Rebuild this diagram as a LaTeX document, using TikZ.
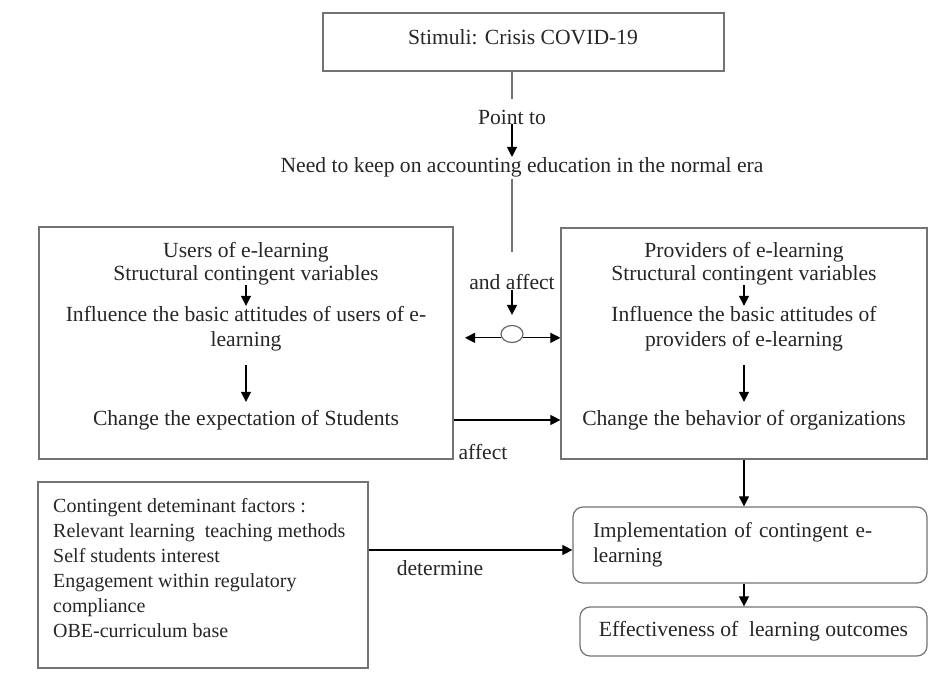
\documentclass[tikz,border=0pt]{standalone}
\usepackage{fontspec}
\setmainfont{Liberation Serif}
\usetikzlibrary{arrows.meta}
\usetikzlibrary{shapes.geometric}
\tikzset{box/.style={rectangle, draw=black!55, line width=1.2pt}}
\tikzset{rbox/.style={box, rounded corners=10pt}}
\tikzset{txt/.style={inner sep=0pt, text=black!85, font=\fontsize{21.6}{25}\selectfont}}
\tikzset{arr/.style={-{Triangle[length=10pt,width=10pt]}, line width=1.1pt}}
\tikzset{ln/.style={draw=black!55, line width=1.2pt}}

\begin{document}
\begin{tikzpicture}[x=1pt, y=-1pt]
  \useasboundingbox (0,0) rectangle (932,688);

  % top of the chain
  \node[box, minimum width=401pt, minimum height=58pt] (stim) at (523.5,42) {};
  \node[txt] (stimt) at (523,37) {Stimuli: Crisis COVID-19};
  \node[txt] (point) at (512,117) {Point to};
  \node[txt] (need) at (522,167) {Need to keep on accounting education in the normal era};

  % the two big boxes
  \node[box, minimum width=414pt, minimum height=232pt] (users) at (246,343) {};
  \node[box, minimum width=366pt, minimum height=231pt] (prov) at (744,343.5) {};

  \node[txt] (u1) at (246,252) {Users of e-learning};
  \node[txt] (u2) at (246,275) {Structural contingent variables};
  \node[txt, align=center] (u3) at (246,328.5) {Influence the basic attitudes of users of e-\\learning};
  \node[txt] (u4) at (246,420) {Change the expectation of Students};

  \node[txt] (p1) at (744,252) {Providers of e-learning};
  \node[txt] (p2) at (744,275) {Structural contingent variables};
  \node[txt, align=center] (p3) at (744,328.5) {Influence the basic attitudes of\\providers of e-learning};
  \node[txt] (p4) at (744,420) {Change the behavior of organizations};

  \node[txt] (andaff) at (512,282) {and affect};
  \node[ellipse, draw=black!60, line width=1.2pt, minimum width=22pt, minimum height=17pt, inner sep=0pt] (knot) at (512,334) {};
  \coordinate (lt) at (465,0);
  \node[txt] (aff) at (483,452) {affect};

  % bottom part
  \node[box, minimum width=330pt, minimum height=186pt] (fbox) at (203,575) {};
  \node[txt, font=\fontsize{20}{25}\selectfont, anchor=north west, align=left] (fact) at (53,498) {Contingent deteminant factors :\\
    Relevant learning\ \ teaching methods\\
    Self students interest\\
    Engagement within regulatory\\
    compliance\\
    OBE-curriculum base};
  \node[rbox, txt, font=\fontsize{21.2}{25}\selectfont, inner xsep=20pt, text width=314pt, minimum height=76pt, align=left] (impl) at (750,545)
    {Implementation of contingent e-\\learning};
  \node[rbox, txt, minimum width=347pt, minimum height=49pt] (eff) at (753.5,631.5) {Effectiveness of\ \ learning outcomes};
  \node[txt] (det) at (440,568) {determine};

  % connectors
  \draw[ln, shorten >=11pt] (stim.south -| point) -- (point.north);
  \draw[arr] (point.south) -- (point.south |- need.north);
  \draw[ln, shorten <=2pt, shorten >=22pt] (need.south -| point) -- (andaff.north);
  \draw[arr, shorten >=10pt] (andaff.south) -- (knot.north);
  \draw[arr] (knot.200) -- (knot.200 -| lt);
  \draw[arr] (knot.-20) -- (knot.-20 -| prov.west);
  \draw[arr] (u2.south) -- (u2.south |- u3.north);
  \draw[arr, shorten <=14pt, shorten >=8pt] (u3.south) -- (u3.south |- u4.north);
  \draw[arr] (p2.south) -- (p2.south |- p3.north);
  \draw[arr, shorten <=14pt, shorten >=8pt] (p3.south) -- (p3.south |- p4.north);
  \draw[arr] (u4 -| users.east) -- (u4 -| prov.west);
  \draw[arr] (prov.south) -- (prov.south |- impl.north);
  \draw[arr] ([yshift=-5pt]impl.west -| fbox.east) -- ([yshift=-5pt]impl.west);
  \draw[arr] (prov.south |- impl.south) -- (prov.south |- eff.north);

\end{tikzpicture}
\end{document}
